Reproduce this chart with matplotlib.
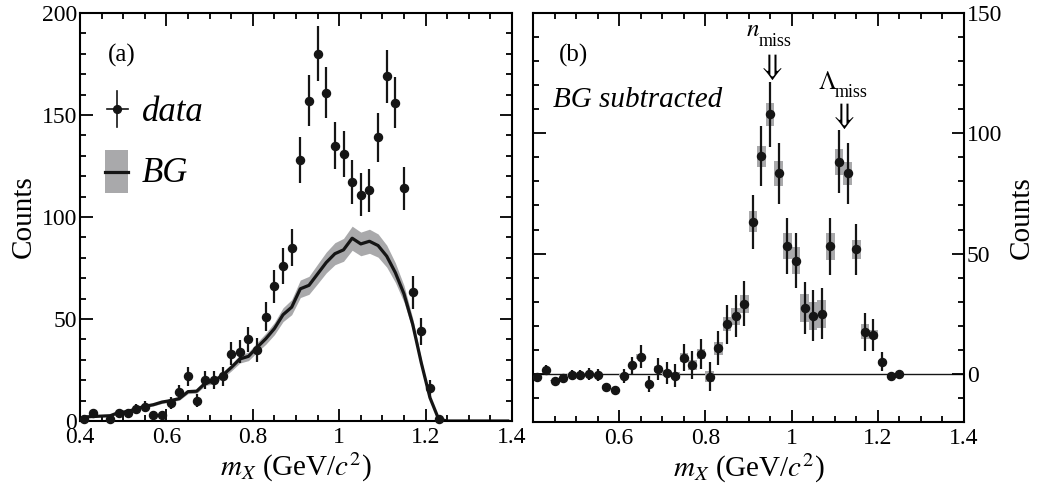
import numpy as np
import matplotlib
matplotlib.use("Agg")
import matplotlib.pyplot as plt
from matplotlib.ticker import MultipleLocator, FixedLocator
from matplotlib.patches import Rectangle
from matplotlib.lines import Line2D

plt.rcParams['font.family'] = ['Liberation Serif', 'DejaVu Serif']
plt.rcParams['mathtext.fontset'] = 'stix'

# Missing-mass bins (centres, 20 MeV wide)
mass = [0.41, 0.43, 0.45, 0.47, 0.49, 0.51, 0.53, 0.55, 0.57, 0.59,
        0.61, 0.63, 0.65, 0.67, 0.69, 0.71, 0.73, 0.75, 0.77, 0.79,
        0.81, 0.83, 0.85, 0.87, 0.89, 0.91, 0.93, 0.95, 0.97, 0.99,
        1.01, 1.03, 1.05, 1.07, 1.09, 1.11, 1.13, 1.15, 1.17, 1.19,
        1.21, 1.23, 1.25]

# Observed counts (empty bins are not drawn)
counts = [1, 4, np.nan, 1, 4, 4, 6, 7, 3, 3,
          9, 14, 22, 10, 20, 20, 22, 33, 34, 40,
          35, 51, 66, 76, 85, 128, 157, 180, 161, 135,
          131, 117, 111, 113, 139, 169, 156, 114, 63, 44,
          16, 1, np.nan]

# Statistical errors
stat_err = [1.0, 2.0, 0.0, 1.0, 2.0, 2.0, 2.4, 2.6, 1.7, 1.7,
            3.0, 3.7, 4.7, 3.2, 4.5, 4.5, 4.7, 5.7, 5.8, 6.3,
            5.9, 7.1, 8.1, 8.7, 9.2, 11.3, 12.5, 13.4, 12.7, 11.6,
            11.4, 10.8, 10.5, 10.6, 11.8, 13.0, 12.5, 10.7, 7.9, 6.6,
            4.0, 1.0, 0.0]

# Background-subtracted counts
subtracted = [-1.1, 1.7, -2.9, -1.8, -0.4, -0.5, 0.0, -0.4, -5.3, -6.7,
              -0.8, 3.5, 7.2, -4.2, 2.1, 0.3, -0.7, 6.8, 3.6, 8.3,
              -1.1, 10.7, 20.7, 23.9, 29.2, 63.2, 90.5, 107.9, 83.3, 53.0,
              47.1, 27.4, 24.2, 24.9, 53.0, 88.2, 83.3, 51.7, 17.6, 16.3,
              5.1, -0.8, -0.1]

# Background estimate and its uncertainty over the full range
bg_mass = [0.41, 0.43, 0.45, 0.47, 0.49, 0.51, 0.53, 0.55, 0.57, 0.59,
           0.61, 0.63, 0.65, 0.67, 0.69, 0.71, 0.73, 0.75, 0.77, 0.79,
           0.81, 0.83, 0.85, 0.87, 0.89, 0.91, 0.93, 0.95, 0.97, 0.99,
           1.01, 1.03, 1.05, 1.07, 1.09, 1.11, 1.13, 1.15, 1.17, 1.19,
           1.21, 1.23, 1.25, 1.27, 1.29, 1.31, 1.33, 1.35, 1.37, 1.39]
background = [2.0, 2.2, 2.4, 2.6, 4.2, 4.6, 6.0, 7.2, 8.0, 9.3,
              10.0, 11.0, 14.4, 14.6, 18.6, 19.6, 22.4, 26.2, 30.4, 31.7,
              36.1, 40.3, 45.3, 52.1, 55.8, 64.8, 66.5, 72.1, 77.7, 82.0,
              83.9, 89.6, 86.8, 88.1, 86.0, 80.8, 72.7, 62.3, 47.5, 28.5,
              11.5, 1.0, 0.0, 0.0, 0.0, 0.0, 0.0, 0.0, 0.0, 0.0]
bg_err = [0.2, 0.2, 0.2, 0.2, 0.3, 0.3, 0.4, 0.5, 0.6, 0.7,
          0.7, 0.8, 1.0, 1.0, 1.2, 1.3, 1.5, 1.7, 2.0, 2.1,
          2.4, 2.7, 3.0, 3.4, 3.7, 4.3, 4.4, 4.8, 5.1, 5.4,
          5.6, 5.9, 5.8, 5.9, 5.7, 5.4, 4.8, 4.1, 3.0, 1.8,
          0.7, 0.1, 0.0, 0.0, 0.0, 0.0, 0.0, 0.0, 0.0, 0.0]

# Marker positions for the missing neutron and Lambda
m_neutron = 0.95
m_lambda = 1.116

BAND = '#a9a9ab'
INK = '#151515'
BIN_W = 0.02

mass_a = np.array(mass)
counts_a = np.array(counts, dtype=float)
err_a = np.array(stat_err)
sub_a = np.array(subtracted)
bgx = np.array(bg_mass)
bgy = np.array(background)
bge = np.array(bg_err)
sys_err = np.array([bge[bg_mass.index(m)] for m in mass])

fig = plt.figure(figsize=(10.39, 4.90), dpi=100)
W, H = 1039, 490
axA = fig.add_axes([80 / W, (H - 421) / H, 432 / W, 408 / H])
axB = fig.add_axes([533 / W, (H - 422) / H, 431 / W, 409 / H])

TICKFS = 17
LABELFS = 21


def style(ax):
    for s in ax.spines.values():
        s.set_linewidth(1.5)
    ax.tick_params(which='both', direction='in', top=True, right=True,
                   width=1.3, labelsize=TICKFS, pad=4)
    ax.tick_params(which='major', length=9)
    ax.tick_params(which='minor', length=4.5)
    ax.xaxis.set_major_locator(MultipleLocator(0.2))
    ax.xaxis.set_minor_locator(MultipleLocator(0.05))
    ax.yaxis.set_minor_locator(MultipleLocator(10))
    ax.set_xlim(0.4, 1.4)
    ax.set_xlabel(r'$m_X$ (GeV/$c^2$)', fontsize=LABELFS, labelpad=2)
    ax.xaxis.set_major_formatter(plt.FuncFormatter(
        lambda v, p: ('%g' % round(v, 2))))


# ---- panel (a): raw spectrum with background estimate ----
style(axA)
axA.set_ylim(0, 200)
axA.yaxis.set_major_locator(MultipleLocator(50))
axA.tick_params(axis='y', pad=2)
axA.set_ylabel('Counts', fontsize=LABELFS, labelpad=4)

axA.fill_between(bgx, bgy - bge, bgy + bge, color=BAND, lw=0, zorder=1)
axA.plot(bgx, bgy, color=INK, lw=2.3, zorder=2)
axA.errorbar(mass_a, counts_a, yerr=err_a, fmt='o', color=INK,
             ms=5.8, elinewidth=1.6, capsize=0, zorder=3, clip_on=False)

axA.text(0.097, 0.897, '(a)', transform=axA.transAxes, fontsize=18,
         ha='center', va='center')
# legend entries
axA.add_line(Line2D([0.0856, 0.0856], [0.720, 0.810], transform=axA.transAxes,
                    color=INK, lw=1.2))
axA.add_line(Line2D([0.062, 0.110], [0.765, 0.765], transform=axA.transAxes,
                    color=INK, lw=1.2))
axA.add_line(Line2D([0.0856], [0.765], transform=axA.transAxes, marker='o',
                    ms=5.6, color=INK))
axA.text(0.1435, 0.757, 'data', transform=axA.transAxes, fontsize=25,
         style='italic', ha='left', va='center')
axA.add_patch(Rectangle((0.058, 0.559), 0.053, 0.105, transform=axA.transAxes,
                        color=BAND, lw=0))
axA.add_line(Line2D([0.058, 0.111], [0.610, 0.610], transform=axA.transAxes,
                    color=INK, lw=2.3))
axA.text(0.1435, 0.607, 'BG', transform=axA.transAxes, fontsize=25,
         style='italic', ha='left', va='center')

# ---- panel (b): background subtracted ----
style(axB)
axB.set_ylim(-20, 150)
axB.yaxis.set_major_locator(FixedLocator([0, 50, 100, 150]))
axB.yaxis.tick_right()
axB.tick_params(axis='y', which='both', left=True, right=True,
                labelleft=False, labelright=True, pad=2)
axB.yaxis.set_label_position('right')
axB.set_ylabel('Counts', fontsize=LABELFS, rotation=90, labelpad=5)
axB.xaxis.set_major_locator(FixedLocator([0.4, 0.6, 0.8, 1.0, 1.2, 1.4]))
axB.xaxis.set_major_formatter(plt.FuncFormatter(
    lambda v, p: '' if abs(v - 0.4) < 1e-6 else ('%g' % round(v, 2))))

axB.axhline(0, color=INK, lw=1.0, zorder=1)
axB.bar(mass_a, 2 * sys_err, bottom=sub_a - sys_err,
        width=BIN_W, color=BAND, lw=0, zorder=2)
axB.errorbar(mass_a, sub_a, yerr=err_a, fmt='o', color=INK,
             ms=5.8, elinewidth=1.6, capsize=0, zorder=3)

axB.text(0.095, 0.897, '(b)', transform=axB.transAxes, fontsize=18,
         ha='center', va='center')
axB.text(0.046, 0.787, 'BG subtracted', transform=axB.transAxes, fontsize=21,
         style='italic', ha='left', va='center')

# particle labels with arrows
axB.text(m_neutron - 0.04, 143, r'$n$', fontsize=18, ha='center', va='center')
axB.text(m_neutron + 0.012, 138, 'miss', fontsize=13, ha='center', va='center')
axB.text(m_neutron, 127.5, r'$\Downarrow$', fontsize=22, ha='center', va='center')
axB.text(m_lambda - 0.033, 121, r'$\Lambda$', fontsize=18, ha='center', va='center')
axB.text(m_lambda + 0.022, 117, 'miss', fontsize=13, ha='center', va='center')
axB.text(m_lambda, 107, r'$\Downarrow$', fontsize=22, ha='center', va='center')

fig.savefig('out.png', dpi=100)
